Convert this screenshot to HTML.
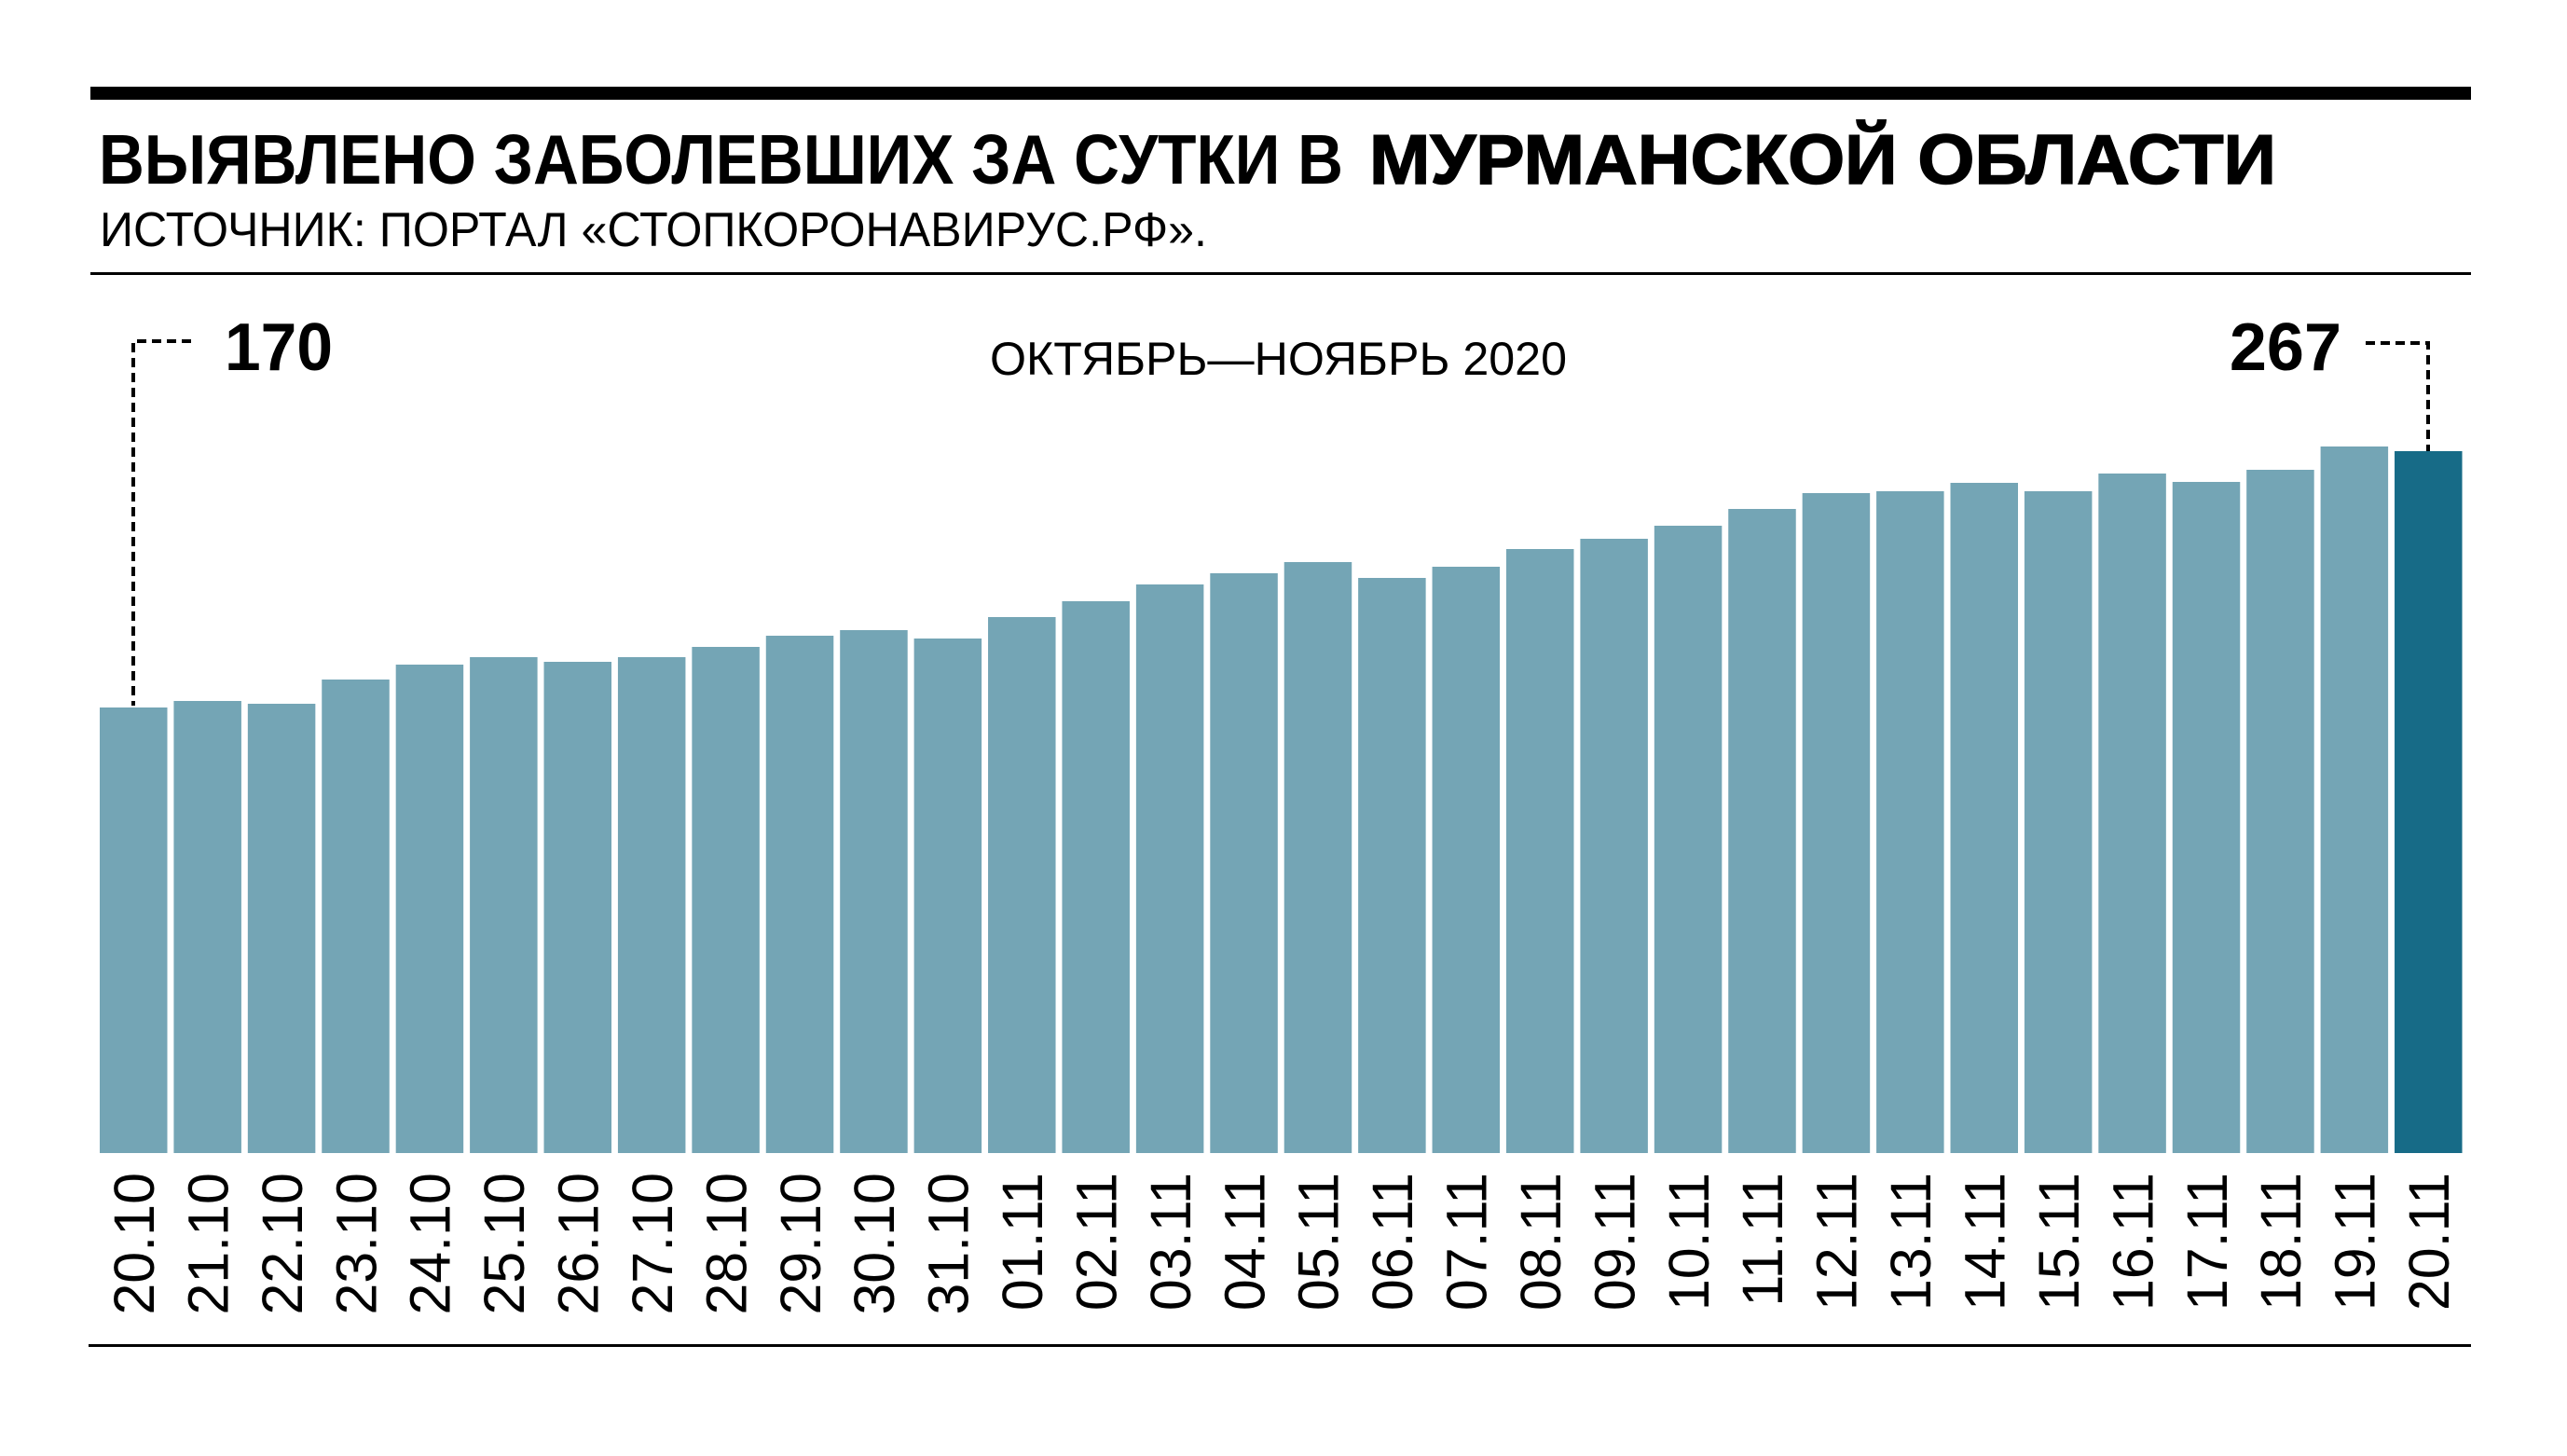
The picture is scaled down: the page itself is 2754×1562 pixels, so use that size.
<!DOCTYPE html>
<html><head><meta charset="utf-8"><style>
html,body{margin:0;padding:0;background:#fff;}
svg{display:block;}
</style></head><body>
<svg width="2754" height="1562" viewBox="0 0 2754 1562" xmlns="http://www.w3.org/2000/svg" font-family="'Liberation Sans', 'Noto Sans CJK SC', sans-serif">
<rect x="97" y="93" width="2554" height="14" fill="#000"/>
<text x="106" y="197" font-size="75" font-weight="bold" textLength="1335" lengthAdjust="spacingAndGlyphs">ВЫЯВЛЕНО ЗАБОЛЕВШИХ ЗА СУТКИ В</text>
<text x="1469" y="197" font-size="75" font-weight="bold" textLength="973" lengthAdjust="spacingAndGlyphs" stroke="#000" stroke-width="1.5">МУРМАНСКОЙ ОБЛАСТИ</text>
<text x="107" y="264" font-size="52" textLength="1188" lengthAdjust="spacingAndGlyphs">ИСТОЧНИК: ПОРТАЛ «СТОПКОРОНАВИРУС.РФ».</text>
<rect x="97" y="292" width="2554" height="3" fill="#000"/>
<text x="1062" y="402" font-size="50" textLength="619" lengthAdjust="spacingAndGlyphs">ОКТЯБРЬ—НОЯБРЬ 2020</text>
<text x="241" y="397" font-size="72" font-weight="bold" textLength="116" lengthAdjust="spacingAndGlyphs">170</text>
<text x="2512" y="397" font-size="72" font-weight="bold" text-anchor="end">267</text>
<path d="M205 366 H143 V757" fill="none" stroke="#000" stroke-width="4" stroke-dasharray="10 6"/>
<path d="M2538 368 H2605 V484" fill="none" stroke="#000" stroke-width="4" stroke-dasharray="10 6"/>
<g id="bars"></g>
<g id="labels" font-size="61"></g>
<rect x="95" y="1442" width="2556" height="3" fill="#000"/>
<script>
var tops=[759,752,755,729,713,705,710,705,694,682,676,685,662,645,627,615,603,620,608,589,578,564,546,529,527,518,527,508,517,504,479,484];
var labs=["20.10","21.10","22.10","23.10","24.10","25.10","26.10","27.10","28.10","29.10","30.10","31.10","01.11","02.11","03.11","04.11","05.11","06.11","07.11","08.11","09.11","10.11","11.11","12.11","13.11","14.11","15.11","16.11","17.11","18.11","19.11","20.11"];
var ns="http://www.w3.org/2000/svg",b=document.getElementById("bars"),l=document.getElementById("labels");
for(var i=0;i<32;i++){var x=107+i*79.42;
var r=document.createElementNS(ns,"rect");r.setAttribute("x",x);r.setAttribute("y",tops[i]);r.setAttribute("width",72.5);r.setAttribute("height",1237-tops[i]);r.setAttribute("fill",i==31?"#176b87":"#74a5b5");b.appendChild(r);
var t=document.createElementNS(ns,"text");var cx=x+36+22;t.setAttribute("x",cx);t.setAttribute("y",1258);t.setAttribute("text-anchor","end");t.setAttribute("transform","rotate(-90 "+cx+" 1258)");t.textContent=labs[i];l.appendChild(t);}
</script>
</svg>
</body></html>
